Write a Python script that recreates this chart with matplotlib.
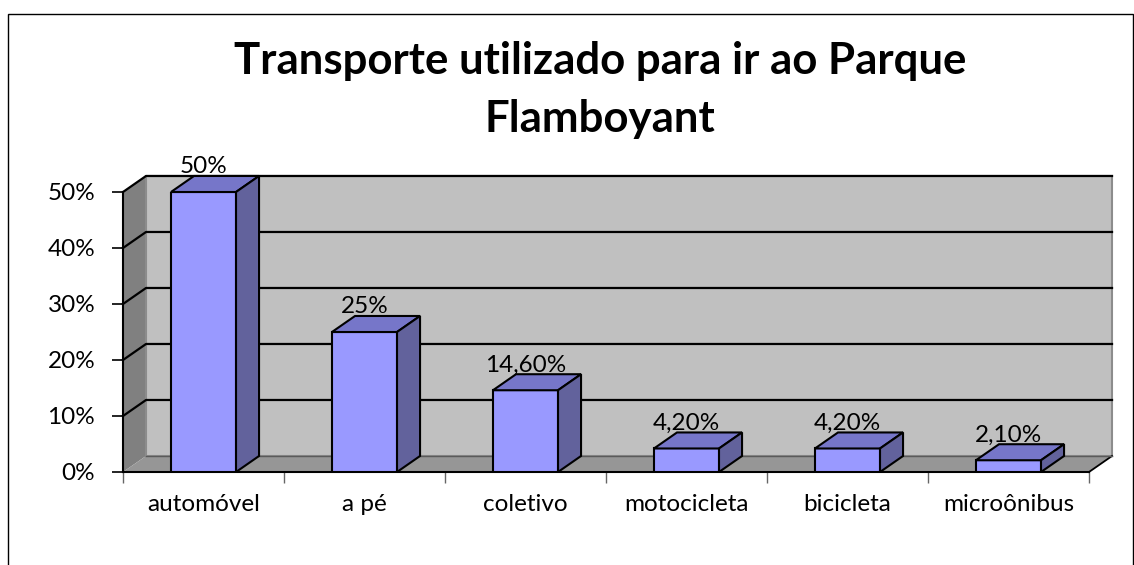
import matplotlib
matplotlib.use("Agg")
import matplotlib.pyplot as plt
from matplotlib.patches import Polygon, Rectangle
import numpy as np

plt.rcParams["font.family"] = ["Lato", "DejaVu Sans"]

# ---------------------------------------------------------------------------
# Data
# ---------------------------------------------------------------------------

CATEGORIES = ["automóvel", "a pé", "coletivo", "motocicleta", "bicicleta", "microônibus"]
VALUES = [50.0, 25.0, 14.6, 4.2, 4.2, 2.1]
VALUE_LABELS = ["50%", "25%", "14,60%", "4,20%", "4,20%", "2,10%"]
Y_TICKS = [0, 10, 20, 30, 40, 50]
Y_TICK_LABELS = ["0%", "10%", "20%", "30%", "40%", "50%"]
TITLE = "Transporte utilizado para ir ao Parque\nFlamboyant"

# ---------------------------------------------------------------------------
# Layout / style
# ---------------------------------------------------------------------------

W, H = 1134, 565
N = len(CATEGORIES)
YMAX = Y_TICKS[-1]

BAR_W = 0.404
DX = 0.143    # depth offset in category units
DY = 2.86     # depth offset in percent units

FRONT = "#9999FF"
TOP = "#7676C9"
SIDE = "#62629C"
BACK_WALL = "#C0C0C0"
SIDE_WALL = "#808080"
FLOOR = "#969696"

fig = plt.figure(figsize=(W / 100, H / 100), dpi=100)
fig.patch.set_facecolor("white")
ax = fig.add_axes([123 / W, (H - 472) / H, 966 / W, 280 / H])
ax.set_facecolor("none")
ax.set_xlim(0, N)
ax.set_ylim(0, YMAX)

# walls and floor
ax.add_patch(Polygon([(0, 0), (DX, DY), (DX, YMAX + DY), (0, YMAX)],
                     closed=True, fc=SIDE_WALL, ec="none", zorder=1, clip_on=False))
ax.add_patch(Polygon([(0, 0), (N, 0), (N + DX, DY), (DX, DY)],
                     closed=True, fc=FLOOR, ec="none", zorder=1, clip_on=False))
ax.add_patch(Rectangle((DX, DY), N, YMAX, fc=BACK_WALL, ec="#8C8C8C",
                       lw=1.5, zorder=1, clip_on=False))
ax.plot([N, N + DX], [0, DY], color="black", lw=1.3, zorder=2, clip_on=False)

# gridlines wrapping the side wall and back wall
for t in Y_TICKS:
    if t == 0:
        ax.plot([DX, N + DX], [DY, DY], color="#5A5A5A", lw=1.0, zorder=2, clip_on=False)
        continue
    ax.plot([0, DX, N + DX], [t, t + DY, t + DY], color="black", lw=1.6,
            zorder=2, clip_on=False)

# bars
x = np.arange(N) + 0.5
ax.bar(x, VALUES, BAR_W, color=FRONT, edgecolor="black", linewidth=1.5, zorder=4)
for xc, v, lab in zip(x, VALUES, VALUE_LABELS):
    x0, x1 = xc - BAR_W / 2, xc + BAR_W / 2
    ax.add_patch(Polygon([(x0, v), (x1, v), (x1 + DX, v + DY), (x0 + DX, v + DY)],
                         closed=True, fc=TOP, ec="black", lw=1.5, zorder=4, clip_on=False))
    ax.add_patch(Polygon([(x1, 0), (x1 + DX, DY), (x1 + DX, v + DY), (x1, v)],
                         closed=True, fc=SIDE, ec="black", lw=1.5, zorder=4, clip_on=False))
    ax.text(xc, v + DY + 0.5, lab, ha="center", va="baseline",
            fontsize=17.5, color="black", zorder=6)

# axes styling
for side in ("top", "right"):
    ax.spines[side].set_visible(False)
for side in ("left", "bottom"):
    ax.spines[side].set_color("black")
    ax.spines[side].set_linewidth(1.5)
    ax.spines[side].set_zorder(3)

ax.set_yticks(Y_TICKS)
ax.set_yticklabels(Y_TICK_LABELS)
ax.tick_params(axis="y", direction="out", length=8, width=1.2, pad=12,
               labelsize=17.5, colors="black")

ax.set_xticks(np.arange(N + 1))
ax.set_xticklabels([])
ax.set_xticks(x, minor=True)
ax.set_xticklabels(CATEGORIES, minor=True)
ax.tick_params(axis="x", which="major", direction="out", length=8, width=1.0,
               color="#666666")
ax.tick_params(axis="x", which="minor", length=0, pad=16, labelsize=17.5,
               labelcolor="black")

# title
fig.text(600 / W, 1 - 41 / H, TITLE, ha="center", va="top",
         fontsize=31.5, fontweight="bold", linespacing=1.55, color="black")

# outer chart border
fig.add_artist(Rectangle((8 / W, -0.02), (1133 - 8) / W, 1 - 14 / H + 0.02,
                         transform=fig.transFigure, fill=False, ec="black", lw=1.0))

fig.savefig("out.png", dpi=100, facecolor="white")
